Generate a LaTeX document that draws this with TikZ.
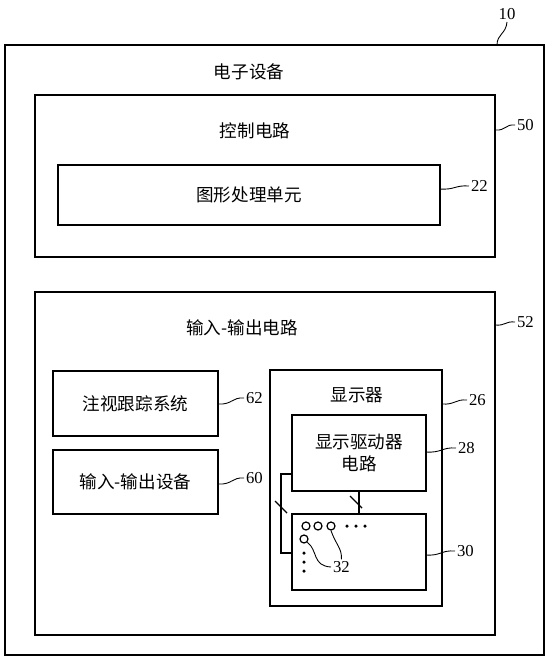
\documentclass[tikz,border=0pt]{standalone}
\usepackage{fontspec}
\setmainfont{Liberation Serif}
\newfontfamily\cjk{Noto Sans CJK SC}
\usetikzlibrary{positioning,calc}

\begin{document}
\begin{tikzpicture}[x=0.02cm, y=-0.02cm,
  blk/.style={rectangle, draw=black, line width=0.8pt, inner sep=0pt, outer sep=0pt},
  cntext/.style={font=\cjk\fontsize{10}{13}\selectfont, align=center},
  refnum/.style={font=\fontsize{9.5}{10}\selectfont, anchor=west, inner sep=1pt},
  lead/.style={line width=0.5pt},
  wire/.style={line width=0.8pt},
  pix/.style={circle, draw=black, line width=0.7pt, minimum size=0.16cm, inner sep=0pt},
  dotc/.style={circle, fill=black, minimum size=0.07cm, inner sep=0pt}
]
\useasboundingbox (0,0) rectangle (550,660);

%--- Boxes ---
\node[blk, minimum width=10.78cm, minimum height=12.2cm] (dev) at (274.5,350) {};
\node[blk, minimum width=9.2cm, minimum height=3.24cm] (ctrl) at (265,176) {};
\node[blk, cntext, minimum width=7.64cm, minimum height=1.2cm] (gpu) at (249,195) {图形处理单元};
\node[blk, minimum width=9.2cm, minimum height=6.86cm] (io) at (265,463.5) {};
\node[blk, cntext, minimum width=3.3cm, minimum height=1.3cm] (gaze) at (135.5,403.5) {注视跟踪系统};
\node[blk, cntext, minimum width=3.3cm, minimum height=1.28cm] (iodev) at (135.5,482) {输入-输出设备};
\node[blk, minimum width=3.44cm, minimum height=4.72cm] (disp) at (356,488) {};
\node[blk, cntext, minimum width=2.68cm, minimum height=1.52cm] (drv) at (359,453) {显示驱动器\\电路};
\node[blk, minimum width=2.68cm, minimum height=1.52cm] (panel) at (359,552) {};

%--- Titles ---
\node[cntext] (tdev) at (249,72) {电子设备};
\node[cntext] (tctrl) at (255,131) {控制电路};
\node[cntext] (tio) at (242,328) {输入-输出电路};
\node[cntext] (tdisp) at (357,395) {显示器};

%--- Reference numbers ---
\node[refnum, anchor=south] (n10) at (507,22) {10};
\node[refnum] (n50) at (515,125) {50};
\node[refnum] (n22) at (469,186) {22};
\node[refnum] (n52) at (515,322) {52};
\node[refnum] (n62) at (244,398) {62};
\node[refnum] (n60) at (244,478) {60};
\node[refnum] (n26) at (467,400) {26};
\node[refnum] (n28) at (456,448) {28};
\node[refnum] (n30) at (455,551) {30};
\node[refnum] (n32) at (331,567) {32};

%--- Leaders ---
\draw[lead] (dev.north -| 497,0) .. controls (497,34) and (506,34) .. (n10.south);
\draw[lead] (ctrl.east |- 0,130) .. controls (506,131) and (505,124) .. (n50.west);
\draw[lead] (gpu.east |- 0,189) .. controls (455,190) and (455,185) .. (n22.west);
\draw[lead] (io.east |- 0,325) .. controls (506,326) and (505,321) .. (n52.west);
\draw[lead] (gaze.east |- 0,404) .. controls (232,405) and (232,397) .. (n62.west);
\draw[lead] (iodev.east |- 0,484) .. controls (232,485) and (232,477) .. (n60.west);
\draw[lead] (disp.east |- 0,404) .. controls (455,405) and (455,399) .. (n26.west);
\draw[lead] (drv.east |- 0,452) .. controls (442,453) and (442,447) .. (n28.west);
\draw[lead] (panel.east |- 0,555) .. controls (441,556) and (441,550) .. (n30.west);

%--- Pixels ---
\node[pix] (p1) at (306,526) {};
\node[pix] (p2) at (318,526) {};
\node[pix] (p3) at (331,526) {};
\node[pix] (p4) at (304,539) {};
\foreach \x in {347,356,365} \node[dotc] at (\x,526) {};
\foreach \y in {553,562,571} \node[dotc] at (304,\y) {};
\draw[lead] (p4.south east) .. controls (318,550) and (312,566) .. (n32.west);
\draw[lead] (p3.south) .. controls (336,545) and (342,548) .. (n32.north);

%--- Wires ---
\draw[wire] (drv.south) -- (panel.north);
\draw[wire] (drv.west |- 0,474) -- ++(-11,0) |- (panel.west |- 0,553);
\draw[wire] (350,496) -- ++(12,12);
\draw[wire] (275,501) -- ++(12,12);

\end{tikzpicture}
\end{document}
